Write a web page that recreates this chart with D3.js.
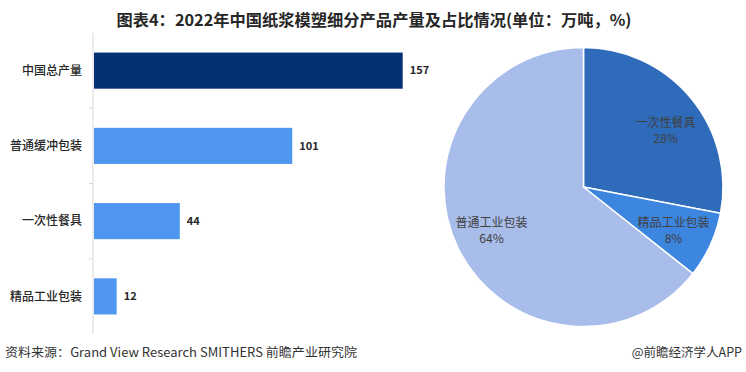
<!DOCTYPE html>
<html>
<head>
<meta charset="utf-8">
<script src="https://cdn.jsdelivr.net/npm/d3@7"></script>
<style>
  html, body { margin: 0; padding: 0; background: #fff; }
  svg { display: block; font-family: "Noto Sans CJK SC", "Noto Sans", sans-serif; }
</style>
</head>
<body>
<svg id="chart" width="746" height="372"></svg>
<script>
"use strict";

// bar chart data (万吨)
var barCategories = ["中国总产量", "普通缓冲包装", "一次性餐具", "精品工业包装"];
var barValues = [157, 101, 44, 12];
var barColors = ["#033174", "#4f96f0", "#4f96f0", "#4f96f0"];

// pie data, clockwise from 12 o'clock
var pieLabels = ["一次性餐具", "精品工业包装", "普通工业包装"];
var pieValues = [44, 12, 101];
var piePercents = ["28%", "8%", "64%"];
var pieColors = ["#2f6bbb", "#3d86e0", "#a9bdeb"];

var svg = d3.select("#chart");

// title
svg.append("text")
  .attr("x", 374)
  .attr("y", 26)
  .attr("text-anchor", "middle")
  .attr("font-size", 16)
  .attr("font-weight", "bold")
  .attr("fill", "#262626")
  .attr("textLength", 515)
  .attr("lengthAdjust", "spacingAndGlyphs")
  .text("图表4：2022年中国纸浆模塑细分产品产量及占比情况(单位：万吨，%)");

// ---- bar chart ----
var axisX = 93;
var xScale = d3.scaleLinear().domain([0, 157]).range([axisX, 402.7]);
var yScale = d3.scaleBand()
  .domain(barCategories)
  .range([33, 334])
  .paddingInner(0.52)
  .paddingOuter(0.26);

var g = svg.append("g");

// axis line + tick marks at band boundaries
g.append("line")
  .attr("x1", axisX).attr("x2", axisX)
  .attr("y1", 33).attr("y2", 334)
  .attr("stroke", "#d9d9d9").attr("stroke-width", 1);

var step = yScale.step();
barCategories.slice(1).forEach(function (c) {
  var yy = yScale(c) - yScale.paddingInner() * step / 2;
  g.append("line")
    .attr("x1", axisX - 4).attr("x2", axisX)
    .attr("y1", yy).attr("y2", yy)
    .attr("stroke", "#d9d9d9");
});

g.selectAll(".bar")
  .data(barValues)
  .enter()
  .append("rect")
  .attr("class", "bar")
  .attr("x", xScale(0) + 1)
  .attr("y", function (d, i) { return yScale(barCategories[i]); })
  .attr("width", function (d) { return xScale(d) - xScale(0) - 1; })
  .attr("height", yScale.bandwidth())
  .attr("fill", function (d, i) { return barColors[i]; });

g.selectAll(".val")
  .data(barValues)
  .enter()
  .append("text")
  .attr("x", function (d) { return xScale(d) + 7; })
  .attr("y", function (d, i) { return yScale(barCategories[i]) + yScale.bandwidth() / 2; })
  .attr("dy", "0.35em")
  .attr("font-size", 11)
  .attr("font-weight", "bold")
  .attr("fill", "#262626")
  .text(function (d) { return d; });

g.selectAll(".cat")
  .data(barCategories)
  .enter()
  .append("text")
  .attr("x", 82)
  .attr("y", function (d) { return yScale(d) + yScale.bandwidth() / 2; })
  .attr("dy", "0.35em")
  .attr("text-anchor", "end")
  .attr("font-size", 12)
  .attr("font-weight", 500)
  .attr("fill", "#262626")
  .text(function (d) { return d; });

// ---- pie chart ----
var cx = 583.5, cy = 187, radius = 139.5;
var pie = d3.pie().sort(null).value(function (d) { return d; });
var arc = d3.arc().innerRadius(0).outerRadius(radius);
var arcs = pie(pieValues);

var pg = svg.append("g").attr("transform", "translate(" + cx + "," + cy + ")");

pg.selectAll("path")
  .data(arcs)
  .enter()
  .append("path")
  .attr("d", arc)
  .attr("fill", function (d, i) { return pieColors[i]; })
  .attr("stroke", "#fff")
  .attr("stroke-width", 1.5);

var labelArc = d3.arc().innerRadius(radius * 0.68).outerRadius(radius * 0.68);
var labelPos = [[82, -60], [90, 40], [-92, 40]];

pieLabels.forEach(function (name, i) {
  var p = labelPos[i];
  var t = pg.append("text")
    .attr("text-anchor", "middle")
    .attr("font-size", 12)
    .attr("fill", "#404040");
  t.append("tspan").attr("x", p[0]).attr("y", p[1]).text(name);
  t.append("tspan").attr("x", p[0]).attr("y", p[1] + 16).text(piePercents[i]);
});

// footer
svg.append("text")
  .attr("x", 5)
  .attr("y", 357)
  .attr("font-size", 12.5)
  .attr("fill", "#333")
  .attr("textLength", 352)
  .attr("lengthAdjust", "spacingAndGlyphs")
  .text("资料来源：Grand View Research SMITHERS 前瞻产业研究院");

svg.append("text")
  .attr("x", 742)
  .attr("y", 357)
  .attr("text-anchor", "end")
  .attr("font-size", 12.5)
  .attr("fill", "#333")
  .text("@前瞻经济学人APP");
</script>
</body>
</html>
